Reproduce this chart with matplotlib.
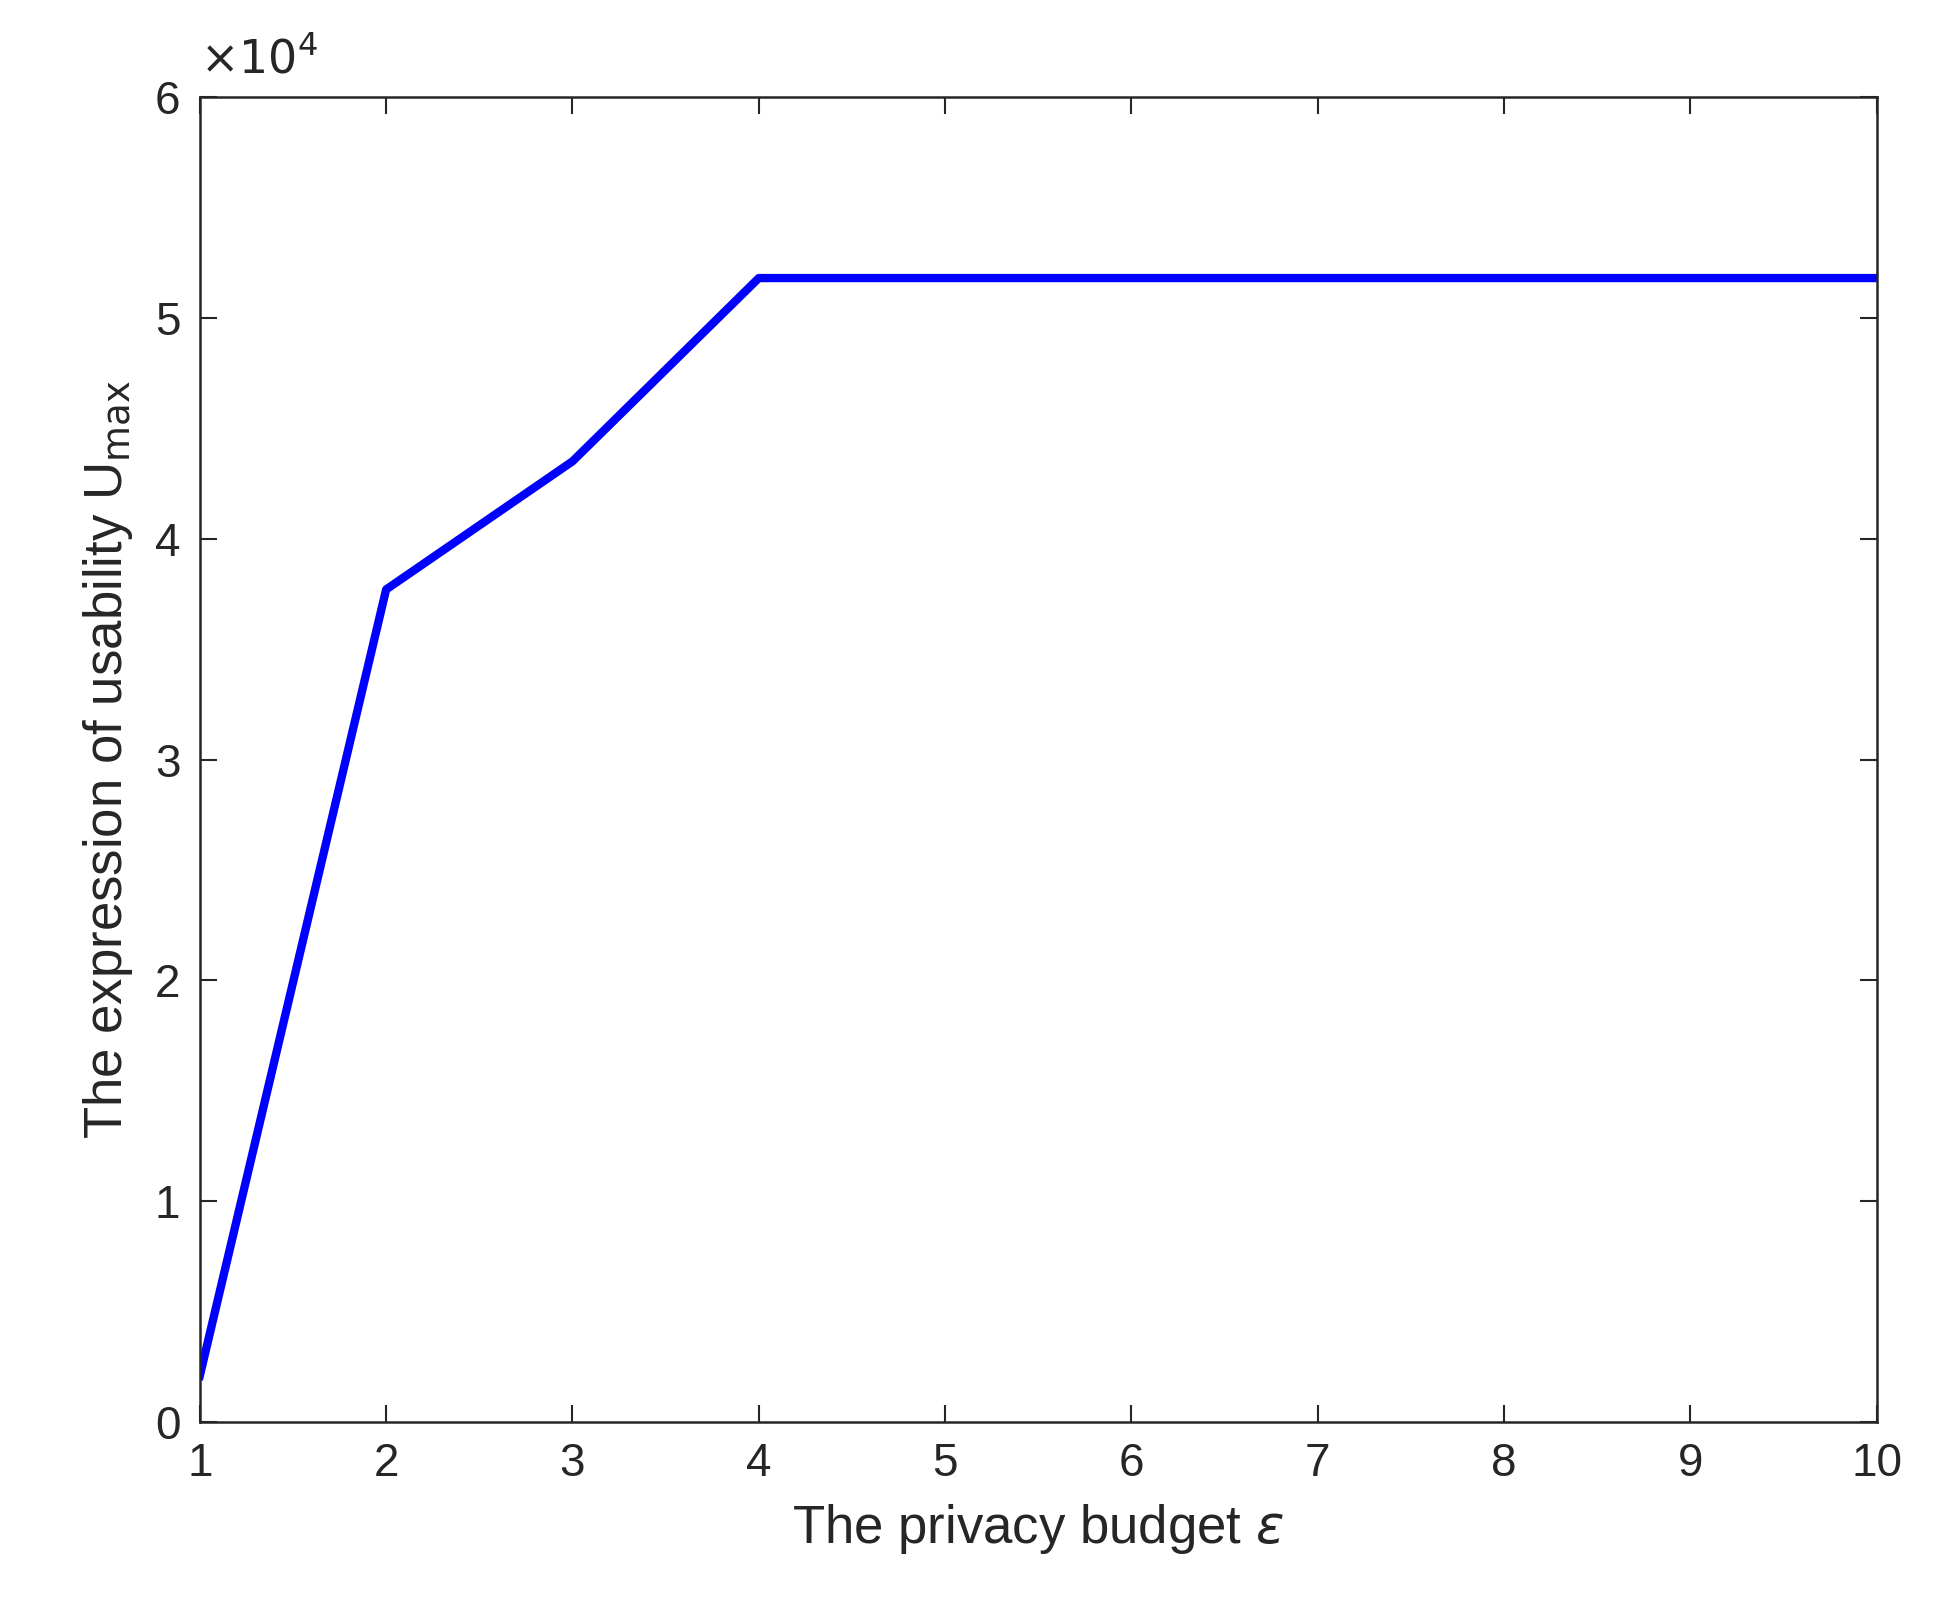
import matplotlib.pyplot as plt

# privacy budget vs maximum usability
epsilon = [1, 2, 3, 4, 5, 6, 7, 8, 9, 10]
u_max = [0.21e4, 3.77e4, 4.35e4, 5.18e4, 5.18e4, 5.18e4, 5.18e4, 5.18e4, 5.18e4, 5.18e4]

plt.rcParams['font.family'] = ['Liberation Sans', 'DejaVu Sans']
grey = '#262626'

fig = plt.figure(figsize=(19.59, 16.16), dpi=100)
ax = fig.add_axes([0.102, 0.12, 0.856, 0.82])
ax.plot(epsilon, u_max, color='#0000ff', linewidth=6)

ax.set_xlim(1, 10)
ax.set_ylim(0, 6e4)
ax.set_xticks(range(1, 11))
ax.set_yticks([i * 1e4 for i in range(7)])
ax.set_yticklabels([str(i) for i in range(7)])
ax.tick_params(direction='in', length=12, width=1.5, labelsize=33, colors=grey,
               top=True, right=True, pad=14)
for s in ax.spines.values():
    s.set_linewidth(1.8)
    s.set_color(grey)

ax.text(0.0, 1.01, r'$\times10^4$', transform=ax.transAxes, fontsize=33, color=grey,
        ha='left', va='bottom')
ax.set_xlabel(r'The privacy budget $\epsilon$', fontsize=38, color=grey, labelpad=12)
ax.set_ylabel(r'The expression of usability U$_{\rm max}$', fontsize=38, color=grey, labelpad=14)

fig.savefig('out.png')
